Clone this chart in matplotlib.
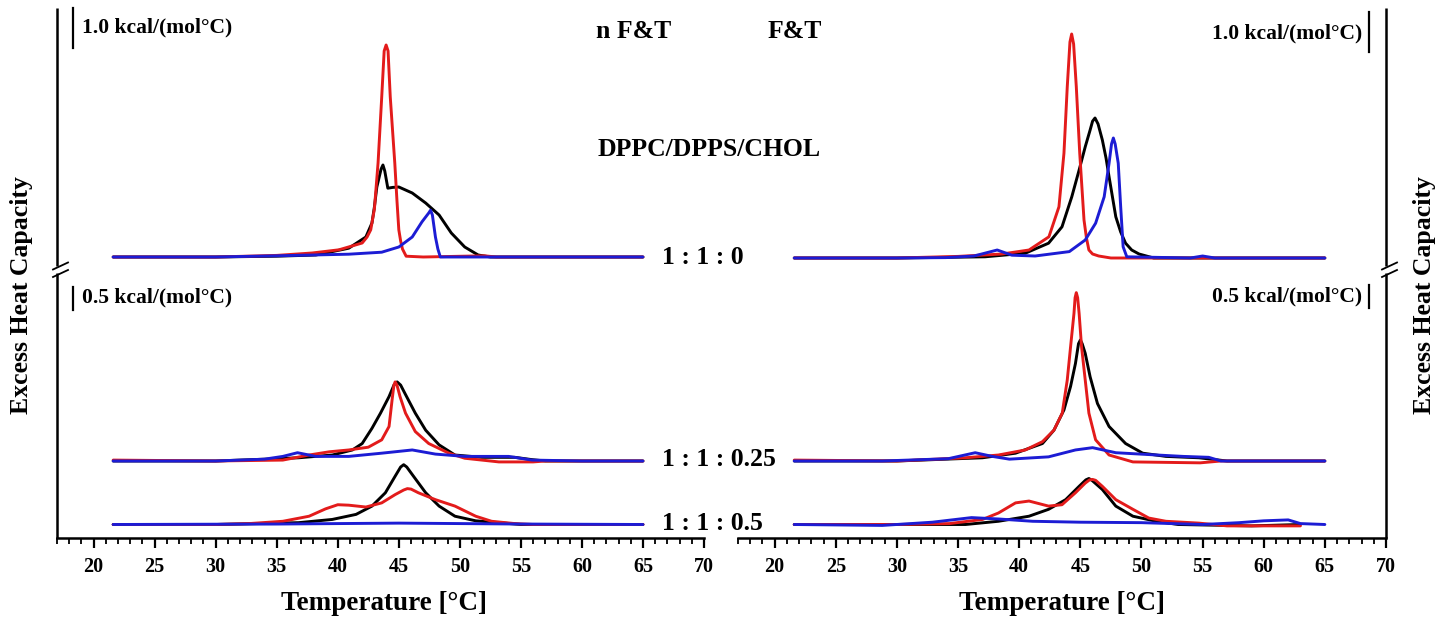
import matplotlib
matplotlib.use('Agg')
import matplotlib.pyplot as plt
from matplotlib.ticker import MultipleLocator

# ---------------- data (T in °C, excess Cp in kcal/(mol°C)) ----------------
# n F&T, DPPC/DPPS/CHOL 1:1:0
nft0_black_T = [21.6, 30, 35, 38.2, 40.9, 42.3, 42.8, 43.0, 43.2, 43.55, 43.7, 43.85, 44.1, 44.5, 45.0, 46.1, 47.2, 48.3, 49.3, 50.4, 51.5, 52.5, 65]
nft0_black_cp = [0, 0, 0.02, 0.05, 0.22, 0.5, 0.85, 1.25, 1.75, 2.2, 2.3, 2.15, 1.72, 1.74, 1.75, 1.6, 1.35, 1.05, 0.6, 0.25, 0.05, 0, 0]
nft0_red_T = [21.6, 30, 35, 37.9, 40.1, 42.0, 42.4, 42.7, 43.0, 43.3, 43.6, 43.8, 43.96, 44.12, 44.3, 44.67, 44.85, 45.0, 45.15, 45.3, 45.6, 47, 52, 53, 65]
nft0_red_cp = [0, 0, 0.04, 0.1, 0.18, 0.35, 0.5, 0.68, 1.2, 2.35, 4.0, 5.15, 5.3, 5.15, 4.0, 2.35, 1.4, 0.68, 0.4, 0.2, 0.02, 0, 0.03, 0, 0]
nft0_blue_T = [21.6, 30, 35, 40.9, 43.6, 45.0, 46.1, 46.9, 47.45, 47.6, 47.75, 48.0, 48.2, 48.4, 49, 65]
nft0_blue_cp = [0, 0, 0.03, 0.07, 0.12, 0.25, 0.5, 0.88, 1.1, 1.17, 1.05, 0.5, 0.2, 0, 0, 0]

# F&T, 1:1:0
ft0_black_T = [21.6, 30, 37.2, 40.5, 42.4, 43.5, 44.3, 44.9, 45.4, 45.8, 46.0, 46.2, 46.45, 46.8, 47.1, 47.35, 47.9, 48.3, 48.7, 49.2, 49.8, 51, 65]
ft0_black_cp = [0, 0, 0.03, 0.12, 0.37, 0.78, 1.53, 2.2, 2.78, 3.2, 3.42, 3.5, 3.35, 2.95, 2.5, 2.03, 1.03, 0.65, 0.37, 0.2, 0.1, 0, 0]
ft0_red_T = [21.6, 30, 35, 38.6, 40.8, 42.43, 43.25, 43.66, 43.93, 44.15, 44.29, 44.45, 44.67, 44.95, 45.3, 45.5, 45.7, 46.0, 46.5, 47.5, 65]
ft0_red_cp = [0, 0, 0.04, 0.1, 0.2, 0.53, 1.28, 2.62, 4.28, 5.4, 5.6, 5.35, 4.28, 2.62, 0.95, 0.5, 0.2, 0.1, 0.05, 0, 0]
ft0_blue_T = [21.6, 30, 34, 36.3, 38.2, 39.4, 41.3, 44.1, 45.4, 46.25, 46.95, 47.35, 47.55, 47.7, 47.85, 48.1, 48.3, 48.5, 48.8, 54, 55, 56, 65]
ft0_blue_cp = [0, 0, 0.01, 0.05, 0.2, 0.07, 0.05, 0.16, 0.45, 0.87, 1.53, 2.37, 2.85, 3.0, 2.85, 2.37, 1.28, 0.28, 0.03, 0, 0.05, 0, 0]

# n F&T, 1:1:0.25
nft25_black_T = [21.6, 30, 34.1, 36.8, 39.55, 41.2, 42.0, 42.8, 43.5, 44.2, 44.6, 44.86, 45.15, 45.5, 46.35, 47.2, 48.3, 49.6, 51.8, 54.5, 55.9, 57, 65]
nft25_black_cp = [0, 0, 0.04, 0.07, 0.13, 0.24, 0.38, 0.71, 1.04, 1.4, 1.65, 1.72, 1.65, 1.47, 1.04, 0.67, 0.35, 0.13, 0.08, 0.08, 0.03, 0, 0]
nft25_red_T = [21.6, 30, 35.5, 37.65, 39.3, 40.9, 42.5, 43.6, 44.2, 44.45, 44.6, 44.7, 44.85, 45.1, 45.55, 46.35, 47.45, 49.1, 50.4, 53.2, 56, 57, 65]
nft25_red_cp = [0.02, 0, 0.02, 0.13, 0.2, 0.24, 0.3, 0.46, 0.75, 1.33, 1.65, 1.72, 1.65, 1.4, 1.04, 0.64, 0.38, 0.17, 0.06, -0.02, -0.02, 0, 0]
nft25_blue_T = [21.6, 30, 34, 35.5, 36.7, 38.2, 40.9, 43.6, 46.1, 48.0, 50.4, 54.0, 55.9, 60, 65]
nft25_blue_cp = [0, 0, 0.04, 0.1, 0.18, 0.1, 0.1, 0.17, 0.24, 0.15, 0.1, 0.1, 0.02, 0, 0]

# F&T, 1:1:0.25
ft25_black_T = [21.6, 30, 37.0, 39.7, 41.9, 42.84, 43.66, 44.2, 44.6, 44.85, 45.0, 45.15, 45.4, 45.8, 46.4, 47.35, 48.7, 50.1, 52.0, 54.7, 57, 65]
ft25_black_cp = [0, 0, 0.07, 0.17, 0.38, 0.67, 1.11, 1.62, 2.12, 2.55, 2.63, 2.55, 2.34, 1.83, 1.25, 0.75, 0.38, 0.17, 0.1, 0.07, 0, 0]
ft25_red_T = [21.6, 30, 35.6, 38.3, 40.5, 41.9, 42.84, 43.52, 43.93, 44.2, 44.48, 44.57, 44.67, 44.78, 44.9, 45.1, 45.4, 45.7, 46.25, 47.35, 49.3, 54.8, 56.5, 65]
ft25_red_cp = [0.02, 0, 0.07, 0.13, 0.24, 0.42, 0.67, 1.04, 1.76, 2.48, 3.21, 3.55, 3.66, 3.55, 3.21, 2.48, 1.76, 1.04, 0.46, 0.13, -0.02, -0.04, 0, 0]
ft25_blue_T = [21.6, 28.8, 34.2, 36.4, 37.8, 39.2, 42.4, 44.6, 46.0, 47.9, 50.6, 53.4, 55.5, 56.5, 65]
ft25_blue_cp = [0, 0, 0.05, 0.18, 0.1, 0.04, 0.09, 0.24, 0.29, 0.18, 0.14, 0.1, 0.08, 0, 0]

# n F&T, 1:1:0.5
nft50_black_T = [21.6, 30, 36.8, 39.55, 41.5, 42.8, 43.9, 44.7, 45.15, 45.4, 45.65, 46.2, 47.2, 48.3, 49.6, 51.3, 53.2, 55, 65]
nft50_black_cp = [0, 0, 0.04, 0.11, 0.22, 0.4, 0.69, 1.05, 1.25, 1.3, 1.25, 1.05, 0.69, 0.4, 0.18, 0.08, 0.04, 0, 0]
nft50_red_T = [21.6, 30, 32.75, 35.5, 37.65, 39.0, 40.0, 40.9, 42.3, 43.6, 44.7, 45.4, 45.7, 46.0, 46.6, 48.0, 49.6, 51.3, 52.6, 54.5, 56, 65]
nft50_red_cp = [0, 0, 0.02, 0.07, 0.18, 0.34, 0.43, 0.42, 0.38, 0.47, 0.65, 0.75, 0.78, 0.77, 0.69, 0.54, 0.4, 0.18, 0.07, 0.02, 0, 0]
nft50_blue_T = [21.6, 35, 40, 45, 50, 55, 65]
nft50_blue_cp = [0, 0.01, 0.02, 0.03, 0.02, 0.01, 0]

# F&T, 1:1:0.5
ft50_black_T = [21.6, 30, 35.6, 38.3, 40.8, 42.4, 43.8, 44.9, 45.45, 45.7, 45.95, 46.8, 47.9, 49.3, 51.2, 53, 59, 63]
ft50_black_cp = [0, 0, 0, 0.07, 0.18, 0.33, 0.54, 0.83, 0.97, 1.0, 0.96, 0.76, 0.4, 0.18, 0.07, 0, -0.03, 0]
ft50_red_T = [21.6, 30, 34.3, 37.0, 38.3, 39.7, 40.8, 42.4, 43.5, 44.6, 45.4, 45.75, 46.0, 46.25, 46.8, 47.9, 49.3, 50.6, 52.0, 54.7, 57, 63]
ft50_red_cp = [0, 0, 0.02, 0.11, 0.25, 0.47, 0.51, 0.4, 0.43, 0.69, 0.9, 0.97, 0.98, 0.96, 0.83, 0.54, 0.33, 0.14, 0.07, 0.03, -0.03, -0.03]
ft50_blue_T = [21.6, 28.8, 32.9, 36.1, 38.3, 41.1, 45, 50, 55, 58, 60, 62, 63, 65]
ft50_blue_cp = [0, -0.02, 0.05, 0.15, 0.12, 0.07, 0.05, 0.04, 0, 0.04, 0.08, 0.1, 0.02, 0]

ratio_labels = ['1 : 1 : 0', '1 : 1 : 0.25', '1 : 1 : 0.5']
panel_titles = ['n F&T', 'F&T']
system_label = 'DPPC/DPPS/CHOL'
scale_labels = ['1.0 kcal/(mol°C)', '0.5 kcal/(mol°C)']
scale_values = [1.0, 0.5]
x_label = 'Temperature [°C]'
y_label = 'Excess Heat Capacity'

# ---------------- layout ----------------
W, H = 1447, 617
plt.rcParams['font.family'] = ['Liberation Serif', 'DejaVu Serif']
plt.rcParams['font.weight'] = 'bold'
fig = plt.figure(figsize=(W / 100, H / 100), dpi=100)

def fx(px):
    return px / W

def fy(py):
    return 1 - py / H

AX_TOP, AX_BOT = 8, 538
YSPAN = AX_BOT - AX_TOP
XMIN, XMAX = 17, 70
RED, BLACK, BLUE = '#e31b1b', '#000000', '#1c1cd4'
LW = 2.1

axL = fig.add_axes([fx(57), fy(AX_BOT), (704 - 57) / W, YSPAN / H])
axR = fig.add_axes([fx(738), fy(AX_BOT), (1386 - 738) / W, YSPAN / H])

# section offsets (y in pixel-like units from the axis bottom) and px per kcal
TOP_SCALE, BOT_SCALE = 40.0, 46.0
base_top_L, base_top_R = AX_BOT - 257, AX_BOT - 258
base_25, base_50 = AX_BOT - 461, AX_BOT - 524.5

def plot_set(ax, sets, base, scale):
    for T, cp, col in sets:
        ax.plot(T, [base + scale * v for v in cp], color=col, lw=LW,
                solid_joinstyle='round', solid_capstyle='round')

plot_set(axL, [(nft0_black_T, nft0_black_cp, BLACK), (nft0_red_T, nft0_red_cp, RED),
               (nft0_blue_T, nft0_blue_cp, BLUE)], base_top_L, TOP_SCALE)
plot_set(axL, [(nft25_black_T, nft25_black_cp, BLACK), (nft25_red_T, nft25_red_cp, RED),
               (nft25_blue_T, nft25_blue_cp, BLUE)], base_25, BOT_SCALE)
plot_set(axL, [(nft50_black_T, nft50_black_cp, BLACK), (nft50_red_T, nft50_red_cp, RED),
               (nft50_blue_T, nft50_blue_cp, BLUE)], base_50, BOT_SCALE)
plot_set(axR, [(ft0_black_T, ft0_black_cp, BLACK), (ft0_red_T, ft0_red_cp, RED),
               (ft0_blue_T, ft0_blue_cp, BLUE)], base_top_R, TOP_SCALE)
plot_set(axR, [(ft25_black_T, ft25_black_cp, BLACK), (ft25_red_T, ft25_red_cp, RED),
               (ft25_blue_T, ft25_blue_cp, BLUE)], base_25, BOT_SCALE)
plot_set(axR, [(ft50_black_T, ft50_black_cp, BLACK), (ft50_red_T, ft50_red_cp, RED),
               (ft50_blue_T, ft50_blue_cp, BLUE)], base_50, BOT_SCALE)

for ax in (axL, axR):
    ax.set_xlim(XMIN, XMAX)
    ax.set_ylim(0, YSPAN)
    for s in ('top', 'left', 'right'):
        ax.spines[s].set_visible(False)
    ax.spines['bottom'].set_linewidth(1.8)
    ax.xaxis.set_minor_locator(MultipleLocator(1))
    ax.set_xticks(list(range(20, 71, 5)))
    ax.tick_params(axis='x', which='major', direction='out', length=7, width=1.6,
                   labelsize=14.5, pad=7)
    ax.tick_params(axis='x', which='minor', direction='out', length=4, width=1.3)
    ax.set_yticks([])
    for lab in ax.get_xticklabels():
        lab.set_fontweight('bold')

def px2x(ax, px, x0px):
    return XMIN + (px - x0px) / ((ax.get_position().width * W) / (XMAX - XMIN))

def yd(py):
    return AX_BOT - py

# broken y spines
def draw_spine(ax, xpx, x0px):
    xs = px2x(ax, xpx, x0px)
    ax.plot([xs, xs], [yd(AX_BOT), yd(273)], color='black', lw=1.8, clip_on=False, solid_capstyle='butt')
    ax.plot([xs, xs], [yd(265.5), yd(AX_TOP)], color='black', lw=1.8, clip_on=False, solid_capstyle='butt')
    for dy in (0, 7.5):
        ax.plot([px2x(ax, xpx - 4, x0px), px2x(ax, xpx + 11, x0px)],
                [yd(269.5 + dy), yd(262.5 + dy)], color='black', lw=1.3, clip_on=False)

draw_spine(axL, 57, 57)
draw_spine(axR, 1386, 738)

# scale bars
def scale_bar(ax, xpx, x0px, ytop_px, value, scale):
    xb = px2x(ax, xpx, x0px)
    ax.plot([xb, xb], [yd(ytop_px), yd(ytop_px) - value * scale], color='black', lw=1.6, clip_on=False)

scale_bar(axL, 72.5, 57, 8, scale_values[0], TOP_SCALE)
scale_bar(axL, 72.5, 57, 287, scale_values[1], BOT_SCALE)
scale_bar(axR, 1369, 738, 12, scale_values[0], TOP_SCALE)
scale_bar(axR, 1369, 738, 285, scale_values[1], BOT_SCALE)

fs_scale = 15.5
fig.text(fx(82), fy(27), scale_labels[0], ha='left', va='center', fontsize=fs_scale, fontweight='bold')
fig.text(fx(82), fy(297), scale_labels[1], ha='left', va='center', fontsize=fs_scale, fontweight='bold')
fig.text(fx(1362), fy(33), scale_labels[0], ha='right', va='center', fontsize=fs_scale, fontweight='bold')
fig.text(fx(1362), fy(296), scale_labels[1], ha='right', va='center', fontsize=fs_scale, fontweight='bold')

# annotations
fig.text(fx(596), fy(32), panel_titles[0], ha='left', va='center', fontsize=18.5, fontweight='bold')
fig.text(fx(768), fy(32), panel_titles[1], ha='left', va='center', fontsize=18.5, fontweight='bold')
fig.text(fx(598), fy(150), system_label, ha='left', va='center', fontsize=18.5, fontweight='bold')
fig.text(fx(662), fy(257), ratio_labels[0], ha='left', va='center', fontsize=18.5, fontweight='bold')
fig.text(fx(662), fy(460), ratio_labels[1], ha='left', va='center', fontsize=18.5, fontweight='bold')
fig.text(fx(662), fy(523), ratio_labels[2], ha='left', va='center', fontsize=18.5, fontweight='bold')

# axis labels
fig.text(fx(384), fy(603), x_label, ha='center', va='center', fontsize=19.5, fontweight='bold')
fig.text(fx(1062), fy(603), x_label, ha='center', va='center', fontsize=19.5, fontweight='bold')
fig.text(fx(22), fy(295), y_label, ha='center', va='center', rotation=90, fontsize=18.5, fontweight='bold')
fig.text(fx(1425), fy(295), y_label, ha='center', va='center', rotation=90, fontsize=18.5, fontweight='bold')

fig.savefig('out.png', dpi=100)
